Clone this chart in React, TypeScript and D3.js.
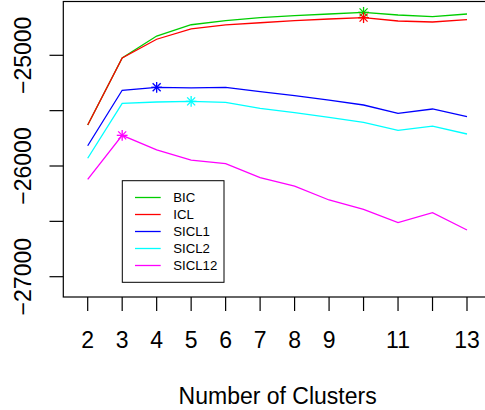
import React from 'react';
import * as d3 from 'd3';

// Number of clusters on the x axis
const clusters = [2, 3, 4, 5, 6, 7, 8, 9, 10, 11, 12, 13];

// criterion values
const bic = [-25630, -25024, -24826, -24724, -24687, -24660, -24642, -24627, -24612, -24636, -24651, -24627];
const icl = [-25630, -25024, -24855, -24762, -24726, -24706, -24687, -24672, -24660, -24690, -24699, -24678];
const sicl1 = [-25817, -25316, -25289, -25295, -25289, -25329, -25365, -25404, -25449, -25524, -25485, -25555];
const sicl2 = [-25930, -25434, -25422, -25416, -25425, -25479, -25518, -25560, -25605, -25678, -25639, -25711];
const sicl12 = [-26120, -25723, -25855, -25946, -25979, -26105, -26181, -26307, -26391, -26512, -26422, -26578];

const seriesNames = ['BIC', 'ICL', 'SICL1', 'SICL2', 'SICL12'];
const seriesColors = ['#00CD00', '#FF0000', '#0000FF', '#00FFFF', '#FF00FF'];
const seriesValues = [bic, icl, sicl1, sicl2, sicl12];
// index of the best model for each criterion (where the star sits)
const bestIndex = [8, 8, 2, 3, 1];

const xTicks = clusters;
const xTickLabels = ['2', '3', '4', '5', '6', '7', '8', '9', '', '11', '', '13'];
const yTicks = [-25000, -25500, -26000, -26500, -27000];
const yTickLabels = ['−25000', '', '−26000', '', '−27000'];

const W = 485;
const H = 410;
const plot = { left: 63.3, top: 1.5, right: 492, bottom: 297 };
const font = '"Liberation Sans", Arial, Helvetica, sans-serif';

const App = () => {
  const x = d3.scaleLinear().domain([2, 13]).range([87.7, 467]);
  const y = d3.scaleLinear().domain([-25000, -27000]).range([55.3, 276.7]);

  const line = d3
    .line<number>()
    .x((_, i) => x(clusters[i]))
    .y((d) => y(d));

  // pch = 8 style asterisk
  const star = (cx: number, cy: number, color: string, key: string) => {
    const a = 5.4;
    const b = 4;
    return (
      <g key={key} stroke={color} strokeWidth={1.3}>
        <line x1={cx - a} y1={cy} x2={cx + a} y2={cy} />
        <line x1={cx} y1={cy - a} x2={cx} y2={cy + a} />
        <line x1={cx - b} y1={cy - b} x2={cx + b} y2={cy + b} />
        <line x1={cx - b} y1={cy + b} x2={cx + b} y2={cy - b} />
      </g>
    );
  };

  // legend layout
  const leg = { x0: 122.3, y0: 180.7, x1: 224, y1: 282.3 };
  const legRow0 = 197.5;
  const legStep = 17;

  return (
    <svg width={W} height={H} style={{ position: 'absolute', left: 0, top: 0, background: '#fff' }} fontFamily={font}>
      <rect x={0} y={0} width={W} height={H} fill="#fff" />

      {/* series lines */}
      {seriesValues.map((vals, s) => (
        <path key={'l' + s} d={line(vals) || ''} fill="none" stroke={seriesColors[s]} strokeWidth={1.3} />
      ))}

      {/* best model stars */}
      {seriesValues.map((vals, s) =>
        star(x(clusters[bestIndex[s]]), y(vals[bestIndex[s]]), seriesColors[s], 's' + s)
      )}

      {/* plot box */}
      <rect
        x={plot.left}
        y={plot.top}
        width={plot.right - plot.left}
        height={plot.bottom - plot.top}
        fill="none"
        stroke="#000"
        strokeWidth={1.2}
      />

      {/* x axis */}
      {xTicks.map((t, i) => (
        <g key={'xt' + t}>
          <line x1={x(t)} y1={plot.bottom} x2={x(t)} y2={311} stroke="#000" strokeWidth={1.2} />
          {xTickLabels[i] && (
            <text x={x(t)} y={348.3} fontSize={23} textAnchor="middle" fill="#000">
              {xTickLabels[i]}
            </text>
          )}
        </g>
      ))}

      {/* y axis */}
      {yTicks.map((t, i) => (
        <g key={'yt' + t}>
          <line x1={49.5} y1={y(t)} x2={plot.left} y2={y(t)} stroke="#000" strokeWidth={1.2} />
          {yTickLabels[i] && (
            <text
              transform={`translate(31,${y(t)}) rotate(-90)`}
              fontSize={23}
              textAnchor="middle"
              fill="#000"
            >
              {yTickLabels[i]}
            </text>
          )}
        </g>
      ))}

      <text x={(plot.left + plot.right) / 2} y={404} fontSize={23} textAnchor="middle" fill="#000">
        Number of Clusters
      </text>

      {/* legend */}
      <rect x={leg.x0} y={leg.y0} width={leg.x1 - leg.x0} height={leg.y1 - leg.y0} fill="#fff" stroke="#000" strokeWidth={1} />
      {seriesNames.map((name, i) => (
        <g key={'lg' + name}>
          <line
            x1={135}
            x2={160.7}
            y1={legRow0 + i * legStep}
            y2={legRow0 + i * legStep}
            stroke={seriesColors[i]}
            strokeWidth={1.3}
          />
          <text x={173.3} y={legRow0 + i * legStep + 4.7} fontSize={13.2} fill="#000">
            {name}
          </text>
        </g>
      ))}
    </svg>
  );
};

export default App;
